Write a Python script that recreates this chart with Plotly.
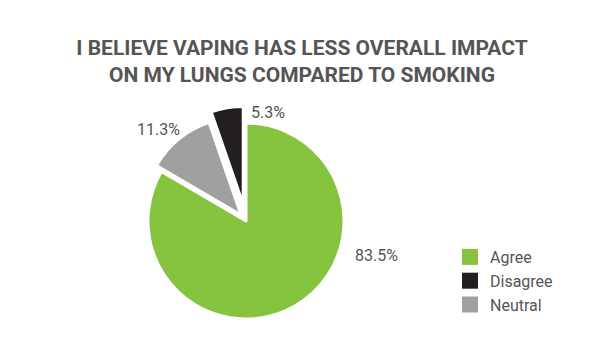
import plotly.graph_objects as go

labels = ["Agree", "Disagree", "Neutral"]
values = [83.5, 5.3, 11.3]
colors = ["#86c440", "#231f20", "#a0a0a0"]
pulls = [0, 0.17, 0.08]
title_text = "I BELIEVE VAPING HAS LESS OVERALL IMPACT<br>ON MY LUNGS COMPARED TO SMOKING"

# pixel positions (layout only) of the outside percentage labels
label_pos = [(376, 255), (268, 112), (158, 129)]

W, H = 604, 350
cx, cy, R = 246, 221, 98
half = R * (1 + max(pulls))

fig = go.Figure(go.Pie(
    labels=labels,
    values=values,
    sort=False,
    direction="counterclockwise",
    rotation=0,
    pull=pulls,
    marker=dict(colors=colors, line=dict(color="white", width=3)),
    textinfo="none",
    showlegend=False,
    domain=dict(x=[(cx - half) / W, (cx + half) / W],
                y=[(H - cy - half) / H, (H - cy + half) / H]),
    hovertemplate="%{label}: %{value:.1f}%<extra></extra>",
))

# legend entries with larger square swatches
for lab, col in zip(labels, colors):
    fig.add_trace(go.Scatter(
        x=[None], y=[None], mode="markers", name=lab,
        marker=dict(symbol="square", size=16, color=col, line=dict(width=0)),
        showlegend=True, hoverinfo="skip",
    ))

for v, (px, py) in zip(values, label_pos):
    fig.add_annotation(
        x=px / W, y=1 - py / H, xref="paper", yref="paper",
        text=f"{v:.1f}%", showarrow=False,
        xanchor="center", yanchor="middle",
        font=dict(family="Roboto", size=16, color="#555555"),
    )

fig.update_layout(
    width=W, height=H,
    margin=dict(l=0, r=0, t=0, b=0),
    paper_bgcolor="white",
    plot_bgcolor="white",
    xaxis=dict(visible=False),
    yaxis=dict(visible=False),
    title=dict(text=title_text, x=0.5, xanchor="center", y=1 - 55 / H, yanchor="middle",
               font=dict(family="Roboto", size=21, color="#555555", weight="bold")),
    legend=dict(x=450 / W, y=1 - 240 / H, xanchor="left", yanchor="top",
                font=dict(family="Roboto", size=16, color="#555555"),
                itemwidth=30, tracegroupgap=0, bgcolor="rgba(0,0,0,0)"),
    showlegend=True,
)

fig.write_html("out.html")
